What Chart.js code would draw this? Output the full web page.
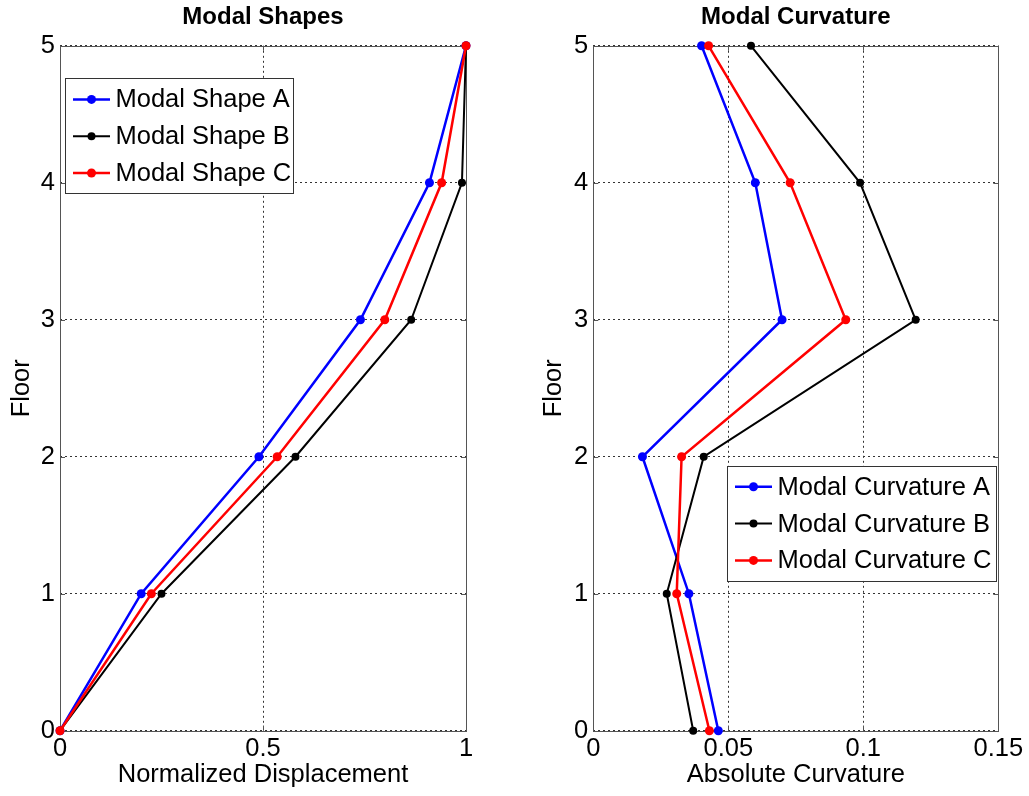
<!DOCTYPE html>
<html>
<head>
<meta charset="utf-8">
<script src="https://cdn.jsdelivr.net/npm/chart.js@4/dist/chart.umd.min.js"></script>
<style>
  html, body { margin: 0; padding: 0; background: #fff; }
  body { width: 1029px; height: 796px; position: relative; overflow: hidden; }
  .plot { position: absolute; top: 0; }
</style>
</head>
<body>
<div class="plot" style="left:0px"><canvas id="graficoForma" width="520" height="796"></canvas></div>
<div class="plot" style="left:520px"><canvas id="graficoCurv" width="509" height="796"></canvas></div>
<script>
// Pavimentos (eixo vertical)
const floors = [0, 1, 2, 3, 4, 5];

// Formas modais normalizadas
const shapeA = [0, 0.20, 0.49, 0.74, 0.91, 1.0];
const shapeB = [0, 0.25, 0.58, 0.865, 0.99, 1.0];
const shapeC = [0, 0.225, 0.535, 0.80, 0.94, 1.0];

// Curvatura modal absoluta
const curvA = [0.0463, 0.0354, 0.0182, 0.0699, 0.0600, 0.0401];
const curvB = [0.0370, 0.0272, 0.0409, 0.1194, 0.0988, 0.0584];
const curvC = [0.0430, 0.0309, 0.0327, 0.0935, 0.0729, 0.0427];

// Marcas dos eixos
const floorTicks = [0, 1, 2, 3, 4, 5];
const shapeTicks = [0, 0.5, 1];
const curvTicks = [0, 0.05, 0.1, 0.15];

const FONT = '"Liberation Sans", Arial, sans-serif';

// Moldura do eixo com marcas internas (estilo MATLAB)
const frame = {
    id: 'frame',
    beforeDatasetsDraw(chart) {
        const { ctx, chartArea: a, scales } = chart;
        ctx.save();
        ctx.strokeStyle = '#555';
        ctx.lineWidth = 1;
        ctx.beginPath();
        scales.x.ticks.forEach(t => {
            const px = Math.round(scales.x.getPixelForValue(t.value)) + 0.5;
            ctx.moveTo(px, a.bottom); ctx.lineTo(px, a.bottom - 5);
            ctx.moveTo(px, a.top); ctx.lineTo(px, a.top + 5);
        });
        scales.y.ticks.forEach(t => {
            const py = Math.round(scales.y.getPixelForValue(t.value)) + 0.5;
            ctx.moveTo(a.left, py); ctx.lineTo(a.left + 5, py);
            ctx.moveTo(a.right, py); ctx.lineTo(a.right - 5, py);
        });
        ctx.stroke();
        ctx.strokeRect(Math.round(a.left) + 0.5, Math.round(a.top) + 0.5,
            Math.round(a.right - a.left), Math.round(a.bottom - a.top));
        ctx.restore();
    }
};

// Legenda com caixa dentro da área do gráfico
const boxLegend = {
    id: 'boxLegend',
    afterDatasetsDraw(chart, args, opts) {
        const { ctx, chartArea: a } = chart;
        const sets = chart.data.datasets;
        ctx.save();
        ctx.font = opts.size + 'px ' + FONT;
        const textW = Math.max(...sets.map(d => ctx.measureText(d.label).width));
        const w = 50 + textW + opts.padRight;
        const h = 115;
        const left = opts.right != null ? a.right - opts.right - w : a.left + opts.left;
        const top = a.top + opts.top;
        ctx.fillStyle = '#fff';
        ctx.fillRect(left, top, w, h);
        ctx.strokeStyle = '#333';
        ctx.lineWidth = 1;
        ctx.strokeRect(Math.round(left) + 0.5, Math.round(top) + 0.5, Math.round(w), h);
        sets.forEach((d, i) => {
            const y = top + 21 + i * 36.8;
            ctx.strokeStyle = d.borderColor;
            ctx.lineWidth = d.borderWidth;
            ctx.beginPath();
            ctx.moveTo(left + 8, y);
            ctx.lineTo(left + 45, y);
            ctx.stroke();
            ctx.fillStyle = d.borderColor;
            ctx.beginPath();
            ctx.arc(left + 26.5, y, d.pointRadius, 0, Math.PI * 2);
            ctx.fill();
            ctx.fillStyle = '#000';
            ctx.textBaseline = 'middle';
            ctx.fillText(d.label, left + 50.5, y + 1);
        });
        ctx.restore();
    }
};

function serie(label, xs, color, width, radius, order) {
    return {
        label: label,
        data: floors.map((f, i) => ({ x: xs[i], y: f })),
        borderColor: color,
        backgroundColor: color,
        pointBackgroundColor: color,
        borderWidth: width,
        pointRadius: radius,
        pointBorderWidth: 0,
        pointHoverRadius: radius,
        showLine: true,
        tension: 0,
        clip: false,
        order: order
    };
}

function opcoes(titulo, xTitulo, xTicks, xMax, yAxisW, yTitlePad, padRight, legenda) {
    return {
        responsive: false,
        animation: false,
        layout: { padding: { left: 0, right: padRight, top: 0, bottom: 0 } },
        plugins: {
            legend: { display: false },
            tooltip: { enabled: false },
            title: {
                display: true,
                text: titulo,
                fullSize: false,
                color: '#000',
                font: { family: FONT, size: 24, weight: 'bold' },
                padding: { top: 3, bottom: 14 }
            },
            boxLegend: legenda
        },
        scales: {
            x: {
                type: 'linear',
                min: 0,
                max: xMax,
                afterBuildTicks: s => { s.ticks = xTicks.map(v => ({ value: v })); },
                afterFit: s => { s.height = 65.3; },
                ticks: {
                    color: '#000',
                    font: { family: FONT, size: 25.5 },
                    padding: 2.5,
                    maxRotation: 0,
                    callback: v => String(v)
                },
                grid: { color: '#333', drawTicks: false },
                border: { display: false, dash: [2, 3] },
                title: {
                    display: true,
                    text: xTitulo,
                    color: '#000',
                    font: { family: FONT, size: 25.5 },
                    padding: { top: 0, bottom: 5.8 }
                }
            },
            y: {
                type: 'linear',
                min: 0,
                max: 5,
                afterBuildTicks: s => { s.ticks = floorTicks.map(v => ({ value: v })); },
                afterFit: s => { s.width = yAxisW; },
                ticks: {
                    color: '#000',
                    font: { family: FONT, size: 25.5 },
                    padding: 5,
                    callback: v => String(v)
                },
                grid: { color: '#333', drawTicks: false },
                border: { display: false, dash: [2, 3] },
                title: {
                    display: true,
                    text: 'Floor',
                    color: '#000',
                    font: { family: FONT, size: 25.5 },
                    padding: { top: yTitlePad, bottom: 0 }
                }
            }
        }
    };
}

// Gráfico das formas modais
new Chart(document.getElementById('graficoForma'), {
    type: 'scatter',
    data: {
        datasets: [
            serie('Modal Shape A', shapeA, '#0000ff', 2.5, 4.5, 2),
            serie('Modal Shape B', shapeB, '#000000', 2, 4, 1),
            serie('Modal Shape C', shapeC, '#ff0000', 2.5, 4.5, 0)
        ]
    },
    options: opcoes('Modal Shapes', 'Normalized Displacement', shapeTicks, 1, 60, 6.3, 54,
        { left: 5, top: 32.6, size: 25.5, padRight: 2 }),
    plugins: [frame, boxLegend]
});

// Gráfico das curvaturas modais
new Chart(document.getElementById('graficoCurv'), {
    type: 'scatter',
    data: {
        datasets: [
            serie('Modal Curvature A', curvA, '#0000ff', 2.5, 4.5, 2),
            serie('Modal Curvature B', curvB, '#000000', 2, 4, 1),
            serie('Modal Curvature C', curvC, '#ff0000', 2.5, 4.5, 0)
        ]
    },
    options: opcoes('Modal Curvature', 'Absolute Curvature', curvTicks, 0.15, 73.3, 18.3, 30.7,
        { right: 2.3, top: 420, size: 25.5, padRight: 5 }),
    plugins: [frame, boxLegend]
});
</script>
</body>
</html>
